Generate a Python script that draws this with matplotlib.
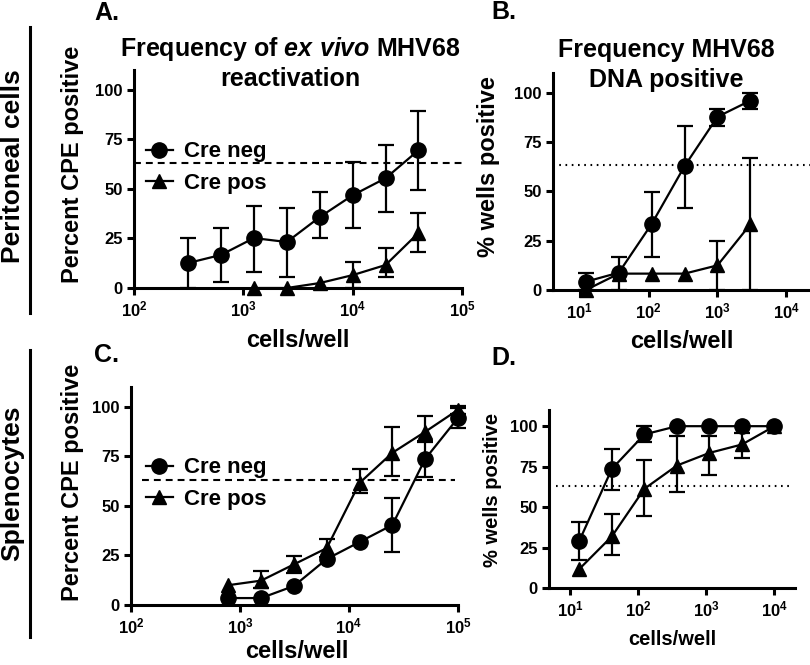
import numpy as np
import matplotlib
matplotlib.use('Agg')
import matplotlib.pyplot as plt
from matplotlib.ticker import NullLocator

plt.rcParams['font.family'] = ['Liberation Sans', 'DejaVu Sans']
plt.rcParams['font.weight'] = 'bold'
plt.rcParams['mathtext.fontset'] = 'custom'
plt.rcParams['mathtext.rm'] = 'Liberation Sans:bold'
plt.rcParams['mathtext.bf'] = 'Liberation Sans:bold'
plt.rcParams['mathtext.it'] = 'Liberation Sans:bold:italic'
plt.rcParams['mathtext.default'] = 'bf'

nan = np.nan

# A. peritoneal cells, ex vivo reactivation
a_cells_neg = [312, 625, 1250, 2500, 5000, 10000, 20000, 40000]
a_neg = [12.6, 16.7, 25.2, 23.2, 35.8, 46.8, 55.4, 69.5]
a_neg_lo = [0, 3.0, 8.2, 5.7, 25.0, 30.2, 38.2, 49.3]
a_neg_hi = [25, 30.4, 41.6, 40.3, 48.6, 63.5, 72.4, 89.5]
a_cells_pos = [1250, 2500, 5000, 10000, 20000, 40000]
a_pos = [0, 0, 2.5, 6.5, 11.6, 27.8]
a_pos_lo = [nan, nan, nan, 0, 5.6, 18.2]
a_pos_hi = [nan, nan, nan, 13, 20, 37.9]

# B. peritoneal cells, viral DNA
b_cells = [12.3, 37, 111, 333, 1000, 3000]
b_neg = [4.2, 8.8, 33.5, 62.8, 87.8, 96]
b_neg_lo = [0, 0, 16.9, 41.7, 83.1, 91.6]
b_neg_hi = [8.4, 16.9, 49.8, 83.1, 91.6, 100]
b_pos = [0, 8.3, 8.3, 8.3, 12.5, 33.3]
b_pos_lo = [nan, nan, nan, nan, 0, 0]
b_pos_hi = [nan, nan, nan, nan, 25, 66.7]

# C. splenocytes, ex vivo reactivation
c_cells = [781, 1562, 3125, 6250, 12500, 25000, 50000, 100000]
c_neg = [3.5, 3.5, 9.6, 23.2, 31.8, 40.4, 73.7, 94.4]
c_neg_lo = [nan, nan, nan, nan, nan, 26.8, 64.6, 89.4]
c_neg_hi = [nan, nan, nan, nan, nan, 54, 83, 99.4]
c_pos = [10, 12.3, 20.5, 28.7, 61.6, 76.8, 87.4, 98.5]
c_pos_lo = [nan, 8.6, 16.1, 24, 56.5, 65, 82, 96.5]
c_pos_hi = [nan, 17.4, 24.9, 33.3, 68.7, 90, 95.5, 100.5]

# D. splenocytes, viral DNA
d_cells = [13.7, 41, 123, 370, 1111, 3333, 10000]
d_neg = [29.3, 73.6, 94.9, 100, 100, 100, 100]
d_neg_lo = [17, 60.4, 90, nan, nan, nan, nan]
d_neg_hi = [40.8, 86.2, 100, nan, nan, nan, nan]
d_pos = [11.8, 31.9, 61.3, 75.7, 83.5, 88.7, 100]
d_pos_lo = [nan, 20.6, 44.3, 59.4, 70, 80.4, nan]
d_pos_hi = [nan, 46, 79, 93.8, 94, 96, nan]

yticks = [0, 25, 50, 75, 100]
xticks_ac = [1e2, 1e3, 1e4, 1e5]
xlabels_ac = ['$10^{2}$', '$10^{3}$', '$10^{4}$', '$10^{5}$']
xticks_bd = [1e1, 1e2, 1e3, 1e4]
xlabels_bd = ['$10^{1}$', '$10^{2}$', '$10^{3}$', '$10^{4}$']
legend_labels = ['Cre neg', 'Cre pos']
threshold = 63.2

W, H = 810, 665
fig = plt.figure(figsize=(W / 100, H / 100), dpi=100)


def box(l, t, r, b):
    return [l / W, 1 - b / H, (r - l) / W, (b - t) / H]


def fx(x):
    return x / W


def fy(y):
    return 1 - y / H


def series(ax, x, y, lo, hi, marker, ms, label):
    y = np.array(y, float)
    err = [y - np.array(lo, float), np.array(hi, float) - y]
    ax.errorbar(x, y, yerr=err, fmt='none', ecolor='black', elinewidth=1.6,
                capsize=5.5, capthick=1.6, clip_on=False, zorder=3)
    ax.plot(x, y, color='black', lw=1.6, marker=marker, ms=ms, label=label,
            clip_on=False, zorder=4)


def style(ax, xlim, xticks, xlabels, tick_fs=12):
    ax.set_xscale('log')
    ax.set_xlim(*xlim)
    ax.set_ylim(0, 110)
    ax.set_xticks(xticks)
    ax.set_xticklabels(xlabels)
    ax.xaxis.set_minor_locator(NullLocator())
    ax.set_yticks(yticks)
    ax.spines['top'].set_visible(False)
    ax.spines['right'].set_visible(False)
    for s in ('left', 'bottom'):
        ax.spines[s].set_linewidth(2.2)
    ax.tick_params(width=2.2, length=5, labelsize=tick_fs, pad=3)
    for t in ax.get_yticklabels():
        t.set_fontweight('bold')


# panel A
axA = fig.add_axes(box(134, 70, 462, 288))
series(axA, a_cells_neg, a_neg, a_neg_lo, a_neg_hi, 'o', 11, legend_labels[0])
series(axA, a_cells_pos, a_pos, a_pos_lo, a_pos_hi, '^', 10, legend_labels[1])
axA.axhline(threshold, color='black', lw=1.5, dashes=(3.3, 2.4))
style(axA, (1e2, 1e5), xticks_ac, xlabels_ac)

# panel B
axB = fig.add_axes(box(553, 73, 810, 290))
series(axB, b_cells, b_neg, b_neg_lo, b_neg_hi, 'o', 11, legend_labels[0])
series(axB, b_cells, b_pos, b_pos_lo, b_pos_hi, '^', 10, legend_labels[1])
axB.axhline(threshold, color='black', lw=1.5, dashes=(0.8, 2.2))
style(axB, (4.1, 2.2e4), xticks_bd, xlabels_bd)

# panel C
axC = fig.add_axes(box(131, 387, 458, 605))
series(axC, c_cells, c_pos, c_pos_lo, c_pos_hi, '^', 10, legend_labels[1])
series(axC, c_cells, c_neg, c_neg_lo, c_neg_hi, 'o', 11, legend_labels[0])
axC.axhline(threshold, xmin=0.034, xmax=0.99, color='black', lw=1.5, dashes=(3.3, 2.4))
style(axC, (1e2, 1e5), xticks_ac, xlabels_ac)

# panel D
axD = fig.add_axes(box(549, 410, 795, 588))
series(axD, d_cells, d_neg, d_neg_lo, d_neg_hi, 'o', 11, legend_labels[0])
series(axD, d_cells, d_pos, d_pos_lo, d_pos_hi, '^', 10, legend_labels[1])
axD.axhline(threshold, xmin=0.03, xmax=0.98, color='black', lw=1.5, dashes=(0.8, 2.2))
style(axD, (4.9, 2e4), xticks_bd, xlabels_bd)

# legends
for ax, ycen in ((axA, 167.5), (axC, 483.5)):
    h, l = ax.get_legend_handles_labels()
    order = [l.index(legend_labels[0]), l.index(legend_labels[1])]
    ax.legend([h[i] for i in order], [l[i] for i in order], loc='center left',
              bbox_to_anchor=(fx(146), fy(ycen)), bbox_transform=fig.transFigure,
              frameon=False, fontsize=16, handlelength=1.2, handletextpad=0.5,
              labelspacing=0.45, borderpad=0, borderaxespad=0, numpoints=1)

# titles
fig.text(fx(290), fy(56), r'Frequency of $\mathit{ex\ vivo}$ MHV68', ha='center',
         va='baseline', fontsize=18, fontweight='bold')
fig.text(fx(290), fy(86), 'reactivation', ha='center', va='baseline',
         fontsize=18, fontweight='bold')
fig.text(fx(666), fy(57), 'Frequency MHV68', ha='center', va='baseline',
         fontsize=18, fontweight='bold')
fig.text(fx(666), fy(87), 'DNA positive', ha='center', va='baseline',
         fontsize=18, fontweight='bold')

# panel letters
for let, x, y in (('A.', 107, 20), ('B.', 504, 19), ('C.', 107, 362), ('D.', 504, 365)):
    fig.text(fx(x), fy(y), let, ha='center', va='baseline', fontsize=18, fontweight='bold')

# axis labels
fig.text(fx(73), fy(164), 'Percent CPE positive', rotation=90, ha='center', va='center',
         fontsize=17, fontweight='bold')
fig.text(fx(488), fy(167), '% wells positive', rotation=90, ha='center', va='center',
         fontsize=17, fontweight='bold')
fig.text(fx(72), fy(482), 'Percent CPE positive', rotation=90, ha='center', va='center',
         fontsize=17, fontweight='bold')
fig.text(fx(493), fy(490), '% wells positive', rotation=90, ha='center', va='center',
         fontsize=14.5, fontweight='bold')
fig.text(fx(298), fy(347), 'cells/well', ha='center', va='baseline', fontsize=17,
         fontweight='bold')
fig.text(fx(682), fy(348), 'cells/well', ha='center', va='baseline', fontsize=17,
         fontweight='bold')
fig.text(fx(297), fy(658), 'cells/well', ha='center', va='baseline', fontsize=17,
         fontweight='bold')
fig.text(fx(672), fy(645), 'cells/well', ha='center', va='baseline', fontsize=14.5,
         fontweight='bold')

# row labels with side bars
fig.text(fx(13), fy(166), 'Peritoneal cells', rotation=90, ha='center', va='center',
         fontsize=19, fontweight='bold')
fig.text(fx(12), fy(483), 'Splenocytes', rotation=90, ha='center', va='center',
         fontsize=19, fontweight='bold')
fig.add_artist(plt.Line2D([fx(30), fx(30)], [fy(27), fy(313)], color='black', lw=2.2))
fig.add_artist(plt.Line2D([fx(30), fx(30)], [fy(350), fy(637)], color='black', lw=2.2))

fig.savefig('out.png', dpi=100)
